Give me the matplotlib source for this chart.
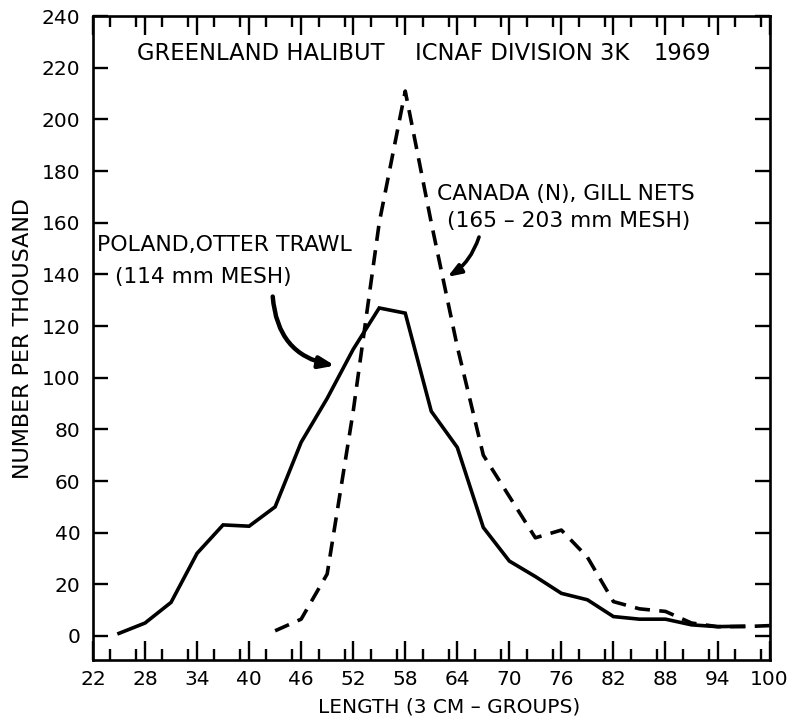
import numpy as np
import matplotlib.pyplot as plt
from matplotlib.ticker import MultipleLocator

# ─── Daten ───────────────────────────────────────────────
laenge_polen  = [25, 28, 31, 34, 37, 40, 43, 46, 49, 52, 55, 58,
                 61, 64, 67, 70, 73, 76, 79, 82, 85, 88, 91, 94, 97]
anteil_polen  = [1, 5, 13, 32, 43, 42.5, 50, 75, 92, 111, 127, 125,
                 87, 73, 42, 29, 23, 16.5, 14, 7.5, 6.5, 6.5, 4.3, 3.6, 3.8]

laenge_kanada = [43, 46, 49, 52, 55, 58, 61, 64, 67, 70, 73, 76,
                 79, 82, 85, 88, 91, 94, 97, 100]
anteil_kanada = [2, 6.5, 24, 87, 160, 211, 160, 112, 70, 54, 38, 41,
                 30.5, 13.3, 10.5, 9.5, 5, 3.6, 3.6, 4]

x_ticks = [22, 28, 34, 40, 46, 52, 58, 64, 70, 76, 82, 88, 94, 100]
y_ticks = [0, 20, 40, 60, 80, 100, 120, 140, 160, 180, 200, 220, 240]

plt.rcParams["font.family"] = ["DejaVu Sans"]

fig = plt.figure(figsize=(7.96, 7.25), dpi=100)
ax = fig.add_axes([0.1168, 0.0897, 0.850, 0.888])

ax.plot(laenge_polen, anteil_polen, "k-", lw=2.6, solid_joinstyle="miter")
ax.plot(laenge_kanada, anteil_kanada, "k--", lw=2.6, dashes=(4.2, 2.6))

ax.set_xlim(22, 100)
ax.set_ylim(-9.3, 240)

# ─── Achsen & Ticks ──────────────────────────────────────
ax.set_xticks(x_ticks)
ax.xaxis.set_minor_locator(MultipleLocator(3))
ax.set_yticks(y_ticks)
ax.tick_params(axis="x", which="major", direction="in", length=14, width=1.7,
               top=True, labelsize=14.5, pad=7)
ax.tick_params(axis="x", which="minor", direction="in", length=8, width=1.7,
               top=True)
ax.tick_params(axis="y", which="major", direction="in", length=11, width=1.7,
               right=True, labelsize=14.5, pad=9)
for s in ax.spines.values():
    s.set_linewidth(1.9)

ax.set_xlabel("LENGTH (3 CM – GROUPS)", fontsize=14.5)
ax.xaxis.set_label_coords(0.526, -0.059)
ax.set_ylabel("NUMBER PER THOUSAND", fontsize=16)
ax.yaxis.set_label_coords(-0.088, 0.5)

# ─── Beschriftungen ──────────────────────────────────────
ax.text(27.1, 225.5, "GREENLAND HALIBUT", fontsize=16.3, ha="left", va="center")
ax.text(59.1, 225.5, "ICNAF DIVISION 3K", fontsize=16.3, ha="left", va="center")
ax.text(93.3, 225.5, "1969", fontsize=16.3, ha="right", va="center")

ax.text(22.5, 151.3, "POLAND,OTTER TRAWL", fontsize=15.8, ha="left", va="center")
ax.text(24.5, 138.9, "(114 mm MESH)", fontsize=15.6, ha="left", va="center")
ax.annotate("", xy=(50.2, 104.5), xytext=(42.7, 132.5),
            arrowprops=dict(arrowstyle="-|>,head_length=0.9,head_width=0.35",
                            lw=3.2, color="k",
                            connectionstyle="arc3,rad=0.4"))

ax.text(61.7, 171.0, "CANADA (N), GILL NETS", fontsize=15.7, ha="left", va="center")
ax.text(62.8, 160.8, "(165 – 203 mm MESH)", fontsize=15.7, ha="left", va="center")
ax.annotate("", xy=(62.6, 138.5), xytext=(66.6, 155.5),
            arrowprops=dict(arrowstyle="-|>,head_length=0.8,head_width=0.3",
                            lw=2.6, color="k",
                            connectionstyle="arc3,rad=-0.2"))

fig.savefig("out.png", dpi=100)
